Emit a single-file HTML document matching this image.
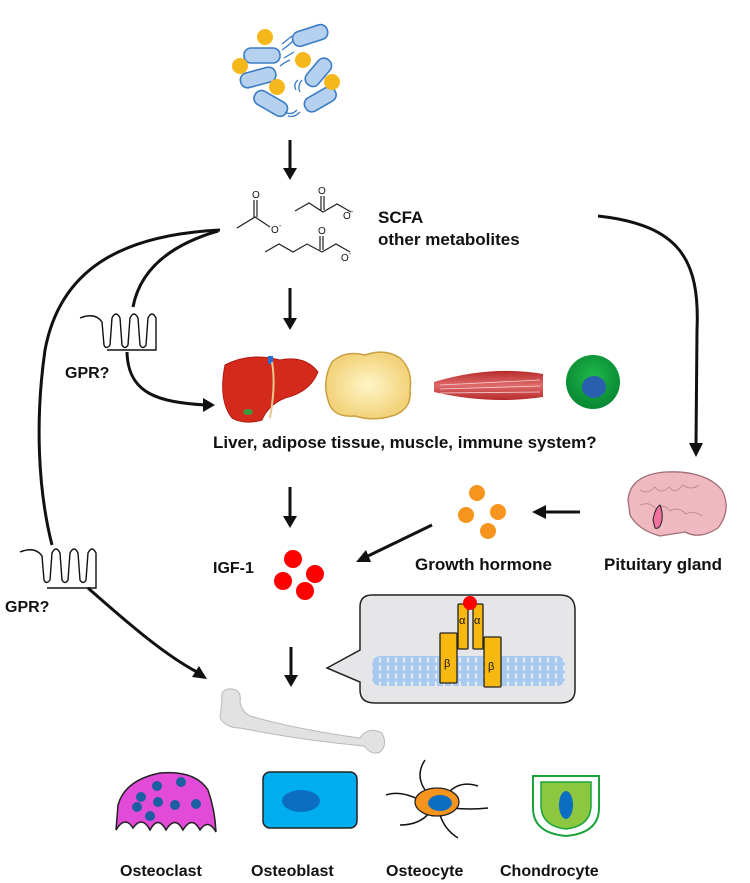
<!DOCTYPE html>
<html><head><meta charset="utf-8"><style>
html,body{margin:0;padding:0;background:#fff}
svg{display:block}
text{font-family:"Liberation Sans",sans-serif;font-weight:bold;fill:#111}
</style></head><body>
<svg width="750" height="883" viewBox="0 0 750 883" xmlns="http://www.w3.org/2000/svg">
<defs>
<radialGradient id="fat" cx="50%" cy="50%" r="50%"><stop offset="0" stop-color="#fff6c8"/><stop offset="1" stop-color="#f2d27a"/></radialGradient>
<radialGradient id="imm" cx="50%" cy="40%" r="55%"><stop offset="0" stop-color="#1fb84a"/><stop offset="1" stop-color="#0a8a34"/></radialGradient>
<linearGradient id="mus" x1="0" y1="0" x2="0" y2="1"><stop offset="0" stop-color="#b52a2a"/><stop offset="0.5" stop-color="#e06a6a"/><stop offset="1" stop-color="#b52a2a"/></linearGradient>
<pattern id="mem" width="8" height="8" patternUnits="userSpaceOnUse"><rect width="8" height="8" fill="#a9c9ee"/><ellipse cx="4" cy="4" rx="1.2" ry="3" fill="#dfeaf7"/></pattern>
</defs>

<!-- bacteria -->
<g stroke="#3a7cc4" stroke-width="1.6" fill="#b6d0ef">
<rect x="292" y="28" width="36" height="15" rx="7" transform="rotate(-18 310 35)"/>
<rect x="244" y="48" width="36" height="15" rx="7"/>
<rect x="240" y="70" width="36" height="15" rx="7" transform="rotate(-15 258 77)"/>
<rect x="302" y="65" width="32" height="15" rx="7" transform="rotate(-50 318 72)"/>
<rect x="253" y="96" width="36" height="15" rx="7" transform="rotate(30 271 103)"/>
<rect x="303" y="92" width="34" height="15" rx="7" transform="rotate(-30 320 99)"/>
</g>
<g fill="none" stroke="#3a7cc4" stroke-width="1.3">
<path d="M282 44 q5 -4 10 -8 M282 50 q6 -4 11 -9 M284 58 q5 -3 10 -6 M280 66 q5 -4 10 -6 M296 90 q-3 -6 2 -10 M300 92 q-3 -6 2 -12 M285 112 q6 4 12 -2 M288 116 q6 2 12 -4"/>
</g>
<g fill="#f5b81c"><circle cx="265" cy="37" r="8"/><circle cx="240" cy="66" r="8"/><circle cx="303" cy="60" r="8"/><circle cx="277" cy="87" r="8"/><circle cx="332" cy="82" r="8"/></g>

<!-- arrows down -->
<g stroke="#111" stroke-width="3" fill="#111">
<line x1="290" y1="140" x2="290" y2="170"/><path d="M283 168 L297 168 L290 180 Z" stroke="none"/>
<line x1="290" y1="288" x2="290" y2="320"/><path d="M283 318 L297 318 L290 330 Z" stroke="none"/>
<line x1="290" y1="487" x2="290" y2="518"/><path d="M283 516 L297 516 L290 528 Z" stroke="none"/>
<line x1="291" y1="647" x2="291" y2="677"/><path d="M284 675 L298 675 L291 687 Z" stroke="none"/>
</g>

<!-- molecules -->
<g stroke="#222" stroke-width="1.2" fill="none">
<path d="M237 228 L255 217 L270 227"/><path d="M254 217 L254 200 M257 217 L257 200"/>
<path d="M295 211 L309 203 L323 212 L337 204 L351 212"/><path d="M321 210 L321 196 M324 210 L324 196"/>
<path d="M265 252 L279 244 L293 252 L307 244 L322 252 L336 244 L350 252"/><path d="M320 250 L320 236 M323 250 L323 236"/>
</g>
<g font-size="10"><text x="252" y="198" style="font-weight:normal">O</text><text x="271" y="233" style="font-weight:normal">O</text><text x="279" y="228" font-size="7" style="font-weight:normal">-</text>
<text x="318" y="194" style="font-weight:normal">O</text><text x="343" y="219" style="font-weight:normal">O</text><text x="351" y="214" font-size="7" style="font-weight:normal">-</text>
<text x="318" y="234" style="font-weight:normal">O</text><text x="341" y="261" style="font-weight:normal">O</text><text x="349" y="256" font-size="7" style="font-weight:normal">-</text></g>
<text x="378" y="223" font-size="17">SCFA</text>
<text x="378" y="245" font-size="17">other metabolites</text>

<!-- curves -->
<g fill="none" stroke="#111" stroke-width="3">
<path d="M220 230 C120 235 60 270 45 350 C35 420 38 490 52 545"/>
<path d="M218 231 C170 245 140 270 133 307"/>
<path d="M127 352 C128 395 160 402 205 405"/>
<path d="M88 588 C130 625 165 655 197 672"/>
<path d="M598 216 C680 225 700 260 697 330 L696 445"/>
<path d="M580 512 L545 512"/>
<path d="M432 525 L368 556"/>
</g>
<g fill="#111">
<path d="M215 405 L203 398 L203 412 Z"/>
<path d="M207 679 L192 677 L199 666 Z"/>
<path d="M696 457 L689 443 L703 443 Z"/>
<path d="M532 512 L546 505 L546 519 Z"/>
<path d="M356 562 L366 550 L371 562 Z"/>
</g>
<!-- receptors -->
<g fill="none" stroke="#111" stroke-width="1.4">
<path d="M80 318 Q95 312 102 322 L104 345 Q106 350 110 345 L112 318 Q116 310 120 318 L122 345 Q125 350 128 345 L130 318 Q134 310 138 318 L140 345 Q143 350 146 345 L148 318 Q152 310 156 318 L156 350 L107 350"/>
<path d="M20 552 Q35 546 42 556 L44 580 Q46 585 50 580 L52 553 Q56 545 60 553 L62 580 Q65 585 68 580 L70 553 Q74 545 78 553 L80 580 Q83 585 86 580 L88 553 Q92 545 96 553 L96 588 L47 588"/>
</g>
<text x="65" y="378" font-size="16">GPR?</text>
<text x="5" y="612" font-size="16">GPR?</text>

<!-- organs -->
<path d="M225 365 Q250 352 280 360 Q305 355 318 372 Q310 392 285 398 Q268 405 262 420 Q245 425 232 418 Q218 400 225 365 Z" fill="#d42a1c" stroke="#b01a10"/>
<rect x="268" y="356" width="5" height="8" fill="#2a6bd1"/>
<path d="M272 362 Q276 385 270 418" stroke="#e8c890" stroke-width="2" fill="none"/>
<ellipse cx="248" cy="412" rx="5" ry="3" fill="#3a9a3a"/>
<path d="M332 362 Q345 350 365 355 Q385 348 400 358 Q413 370 410 390 Q412 408 395 415 Q375 422 355 416 Q332 418 328 400 Q322 380 332 362 Z" fill="url(#fat)" stroke="#c9a040" stroke-width="1.5"/>
<path d="M434 382 Q490 365 543 374 L543 397 Q490 405 434 392 Z" fill="url(#mus)"/>
<g stroke="#f4d0d0" stroke-width="0.8"><line x1="440" y1="385" x2="540" y2="380"/><line x1="440" y1="389" x2="540" y2="386"/><line x1="440" y1="393" x2="540" y2="392"/></g>
<circle cx="593" cy="382" r="27" fill="url(#imm)"/>
<ellipse cx="594" cy="387" rx="12" ry="11" fill="#2a5fae"/>
<text x="213" y="448" font-size="17">Liver, adipose tissue, muscle, immune system?</text>

<!-- IGF, GH -->
<text x="213" y="573" font-size="16">IGF-1</text>
<g fill="#f00"><circle cx="293" cy="559" r="9"/><circle cx="283" cy="581" r="9"/><circle cx="315" cy="574" r="9"/><circle cx="305" cy="591" r="9"/></g>
<g fill="#f7941d"><circle cx="477" cy="493" r="8"/><circle cx="466" cy="515" r="8"/><circle cx="498" cy="512" r="8"/><circle cx="488" cy="531" r="8"/></g>
<text x="415" y="570" font-size="17">Growth hormone</text>
<text x="604" y="570" font-size="17">Pituitary gland</text>
<path d="M628 500 Q630 475 665 472 Q705 470 722 490 Q732 510 718 528 Q700 540 685 532 L660 536 Q638 530 630 515 Z" fill="#f0b8c0" stroke="#a07078" stroke-width="1.3"/>
<g fill="none" stroke="#b88890" stroke-width="0.8"><path d="M640 490 q8 5 15 -3 q6 8 14 0 q6 8 14 -2 q8 6 16 0 M640 505 q10 -4 16 4 q8 -6 14 2 q8 -5 16 3 q8 -4 16 2"/></g>
<path d="M653 520 Q655 508 660 505 Q663 512 662 520 Q660 530 655 528 Z" fill="#f070a0" stroke="#222" stroke-width="1"/>

<!-- callout -->
<path d="M372 595 L560 595 Q575 595 575 610 L575 690 Q575 703 560 703 L375 703 Q360 703 360 690 L360 682 L327 668 L360 650 L360 607 Q360 595 372 595 Z" fill="#e6e6e8" stroke="#222" stroke-width="1.5"/>
<rect x="372" y="656" width="193" height="30" rx="8" fill="url(#mem)"/>
<g fill="#f7b90f" stroke="#222" stroke-width="1.3">
<rect x="458" y="604" width="10" height="45" rx="1"/><rect x="473" y="604" width="10" height="45" rx="1"/>
<rect x="440" y="633" width="17" height="50" rx="1"/><rect x="484" y="637" width="17" height="50" rx="1"/>
</g>
<circle cx="470" cy="603" r="7" fill="#f00"/>
<g font-size="11"><text x="459" y="624" style="font-weight:normal">α</text><text x="474" y="624" style="font-weight:normal">α</text><text x="444" y="667" style="font-weight:normal">β</text><text x="488" y="670" style="font-weight:normal">β</text></g>

<!-- bone -->
<path d="M222 700 Q220 688 232 689 Q242 690 240 702 Q242 712 250 716 Q300 730 360 738 Q368 726 382 733 Q388 745 380 752 Q372 756 364 746 Q300 740 240 728 Q226 728 220 718 Z" fill="#e2e2e2" stroke="#b8b8b8" stroke-width="1"/>

<!-- cells -->
<path d="M118 805 Q125 780 160 773 Q195 770 208 790 Q215 810 216 832 Q208 818 200 830 Q192 815 183 830 Q175 815 166 830 Q158 815 150 830 Q142 815 133 828 Q125 815 116 830 Z" fill="#e24ad8" stroke="#222" stroke-width="1.5"/>
<g fill="#1c5fa0"><circle cx="157" cy="786" r="5"/><circle cx="181" cy="782" r="5"/><circle cx="141" cy="797" r="5"/><circle cx="137" cy="807" r="5"/><circle cx="158" cy="802" r="5"/><circle cx="175" cy="805" r="5"/><circle cx="196" cy="804" r="5"/><circle cx="150" cy="816" r="5"/></g>
<rect x="263" y="772" width="94" height="56" rx="7" fill="#00aeef" stroke="#222" stroke-width="1.5"/>
<ellipse cx="301" cy="801" rx="19" ry="11" fill="#0b6ec2"/>
<g fill="none" stroke="#111" stroke-width="1.5"><path d="M425 790 Q415 775 425 760 M448 793 Q460 780 478 786 M420 800 Q400 790 386 795 M452 808 Q470 810 488 808 M430 812 Q420 825 400 825 M440 815 Q445 830 458 838"/></g>
<ellipse cx="437" cy="802" rx="22" ry="14" fill="#f7941d" stroke="#222" stroke-width="1.3"/>
<ellipse cx="440" cy="803" rx="12" ry="8" fill="#0b6ec2"/>
<path d="M533 776 L599 776 L599 808 Q599 833 566 836 Q533 833 533 808 Z" fill="#fff" stroke="#1aa33a" stroke-width="2"/>
<path d="M541 782 L591 782 L591 805 Q591 826 566 829 Q541 826 541 805 Z" fill="#8dc63f" stroke="#1aa33a" stroke-width="1.5"/>
<ellipse cx="566" cy="805" rx="7" ry="14" fill="#0b6ec2"/>
<text x="120" y="876" font-size="16">Osteoclast</text>
<text x="251" y="876" font-size="16">Osteoblast</text>
<text x="386" y="876" font-size="16">Osteocyte</text>
<text x="500" y="876" font-size="16">Chondrocyte</text>
</svg>
</body></html>
